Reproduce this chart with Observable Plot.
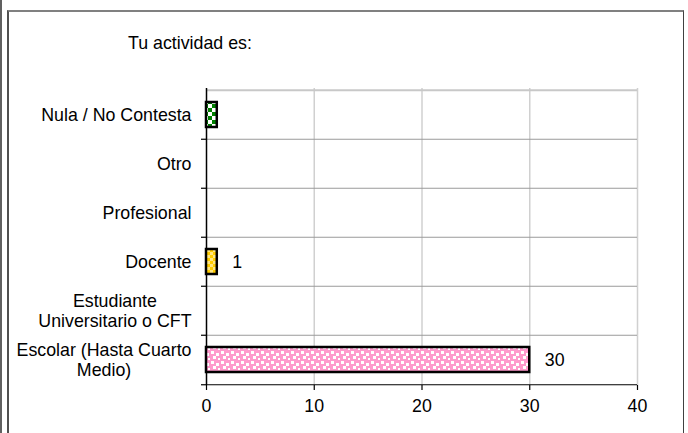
<!DOCTYPE html>
<html><head><meta charset="utf-8">
<script src="https://cdn.jsdelivr.net/npm/d3@7"></script>
<script src="https://cdn.jsdelivr.net/npm/@observablehq/plot@0.6"></script>
<style>
body{margin:0;background:#fff;width:688px;height:433px;overflow:hidden;position:relative;font-family:"Liberation Sans",Arial,sans-serif;}
#title{height:60px;box-sizing:border-box;padding:33px 0 0 128px;font-size:17.8px;line-height:20px;color:#000;}
.frame{position:absolute;left:7px;top:10px;width:677px;height:500px;box-sizing:border-box;border-top:2px solid #808080;border-left:2px solid #505050;border-right:1.5px solid #404040;pointer-events:none;}
.outer{position:absolute;left:0;top:0;width:2px;height:433px;background:#606060;}
</style></head><body>
<div class="outer"></div><div class="frame"></div>
<div id="title">Tu actividad es:</div>
<div id="chart"></div>
<script>
// ---- data ----
const categories = ["Nula / No Contesta", "Otro", "Profesional", "Docente", "Estudiante Universitario o CFT", "Escolar (Hasta Cuarto Medio)"];
const categoryLines = ["Nula / No Contesta", "Otro", "Profesional", "Docente", "Estudiante\nUniversitario o CFT", "Escolar (Hasta Cuarto\nMedio)"];
const values = [1, 0, 0, 1, 0, 30];
const valueLabels = ["", "", "", "1", "", "30"];
const xTicks = [0, 10, 20, 30, 40];

// ---- styling ----
const patternFills = ["url(#pat-green)", "none", "none", "url(#pat-yellow)", "none", "url(#pat-pink)"];
const W = 688, H = 373, mTop = 28, mBottom = 48, mLeft = 206, mRight = 51;
const step = (H - mTop - mBottom) / categories.length;

const rows = categories.map((c, i) => ({cat: c, lines: categoryLines[i], value: values[i], label: valueLabels[i]}));
const bars = rows.filter(d => d.value > 0);
const labelled = rows.filter(d => d.label !== "");

const plot = Plot.plot({
  width: W, height: H,
  marginTop: mTop, marginBottom: mBottom, marginLeft: mLeft, marginRight: mRight,
  style: {fontFamily: '"Liberation Sans", Arial, sans-serif', fontSize: "17.8px", color: "#000", background: "transparent"},
  x: {domain: [0, 40], axis: null},
  y: {domain: categories, padding: 0, axis: null},
  color: {domain: categories, range: patternFills},
  marks: [
    Plot.gridX({ticks: xTicks.slice(1), stroke: "#d0d0d0", strokeOpacity: 1, strokeWidth: 1.5}),
    Plot.ruleY(categories.slice(0, 1), {y: d => d, dy: -step / 2, stroke: "#c8c8c8", strokeWidth: 2}),
    Plot.ruleY(categories.slice(1), {y: d => d, dy: -step / 2, stroke: "#9a9a9a", strokeWidth: 1.2}),
    Plot.ruleY(categories.slice(1), {y: d => d, dy: -step / 2, x1: 0, x2: 0, insetLeft: -5, stroke: "#000", strokeWidth: 1.2}),
    Plot.ruleY(categories.slice(-1), {y: d => d, dy: step / 2, x1: 0, x2: 0, insetLeft: -5, stroke: "#000", strokeWidth: 1.2}),
    Plot.ruleY(categories.slice(-1), {y: d => d, dy: step / 2, stroke: "#000", strokeWidth: 1.2}),
    Plot.ruleX([0], {stroke: "#000", strokeWidth: 1.5}),
    Plot.axisX({ticks: xTicks, tickSize: 5, tickPadding: 9, label: null, stroke: "#000", strokeWidth: 1.2}),
    Plot.barX(bars, {x: "value", y: "cat", fill: "cat", stroke: "#000", strokeWidth: 2.5, insetTop: 12, insetBottom: 12}),
    Plot.text(labelled, {x: "value", y: "cat", text: "label", textAnchor: "start", dx: 15, fill: "#000"}),
    Plot.text(rows, {y: "cat", text: "lines", frameAnchor: "left", textAnchor: "end", dx: -15, lineHeight: 1.13, fill: "#000", className: "ylab"})
  ]
});
document.getElementById("chart").appendChild(plot);

// SVG patterns for Excel-style bar fills
const svg = d3.select(plot);
const defs = svg.insert("defs", ":first-child");
const pg = defs.append("pattern").attr("id", "pat-green").attr("patternUnits", "userSpaceOnUse").attr("width", 8).attr("height", 8);
pg.append("rect").attr("width", 8).attr("height", 8).attr("fill", "#008000");
pg.append("rect").attr("x", 4).attr("y", 0).attr("width", 4).attr("height", 4).attr("fill", "#fff");
pg.append("rect").attr("x", 0).attr("y", 4).attr("width", 4).attr("height", 4).attr("fill", "#fff");
const py = defs.append("pattern").attr("id", "pat-yellow").attr("patternUnits", "userSpaceOnUse").attr("width", 6).attr("height", 6);
py.append("rect").attr("width", 6).attr("height", 6).attr("fill", "#FFCC00");
py.append("rect").attr("x", 0).attr("y", 0).attr("width", 3).attr("height", 3).attr("fill", "#FFE680");
py.append("rect").attr("x", 3).attr("y", 3).attr("width", 3).attr("height", 3).attr("fill", "#FFE680");
const pp = defs.append("pattern").attr("id", "pat-pink").attr("patternUnits", "userSpaceOnUse").attr("width", 10).attr("height", 10);
pp.append("rect").attr("width", 10).attr("height", 10).attr("fill", "#FF99CC");
[[1,1],[6,3],[3,6],[8,8]].forEach(([x, y]) => pp.append("rect").attr("x", x).attr("y", y).attr("width", 3).attr("height", 3).attr("fill", "#fff"));

// center multi-line category labels on their widest line
svg.selectAll(".ylab text").each(function() {
  const tspans = Array.from(this.querySelectorAll("tspan"));
  if (tspans.length < 2) return;
  const w = d3.max(tspans, t => t.getComputedTextLength());
  this.setAttribute("text-anchor", "middle");
  tspans.forEach(t => t.setAttribute("x", -w / 2));
});
</script>
</body></html>
